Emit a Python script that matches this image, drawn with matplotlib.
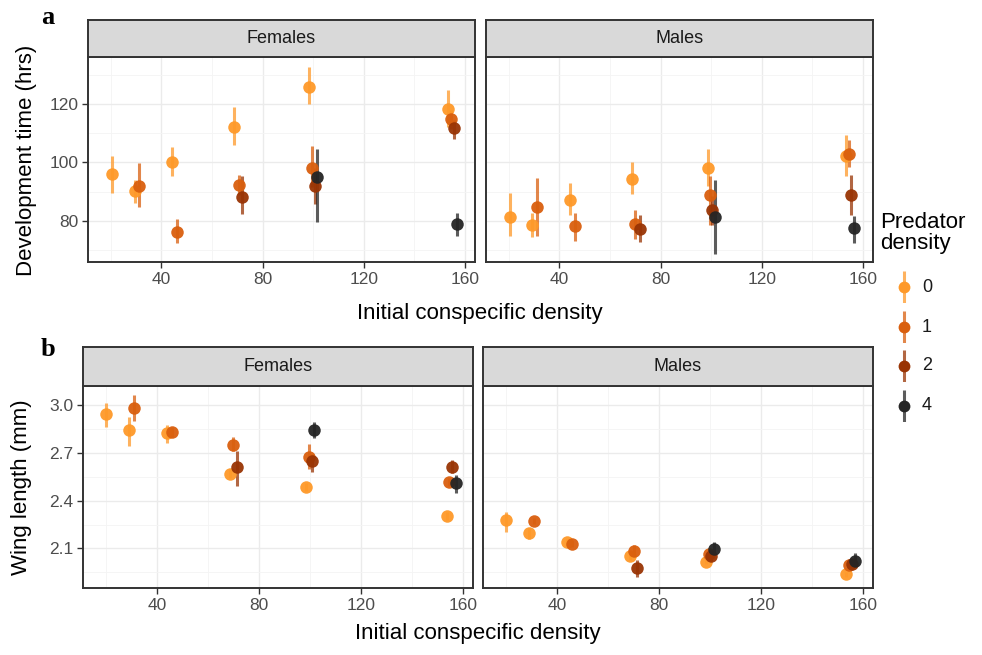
import matplotlib
matplotlib.use('Agg')
import matplotlib.pyplot as plt

plt.rcParams['font.family'] = ['Liberation Sans', 'DejaVu Sans']

# predator density levels and colours
pred_levels = [0, 1, 2, 4]
pred_colors = ['#fe9929', '#d95f0e', '#993404', '#252525']

# point order in every panel: pred level of each point
pred = [0, 0, 1, 0, 1, 0, 1, 2, 0, 1, 2, 4, 0, 1, 2, 4]

# a) development time, females
dev_f_x = [20.3, 29.4, 31.3, 44.2, 46.2, 68.8, 70.5, 71.7, 98.5, 99.7, 100.7, 101.7, 153.5, 154.7, 155.7, 156.7]
dev_f_y = [96.0, 90.1, 92.1, 100.1, 76.3, 112.1, 92.4, 88.1, 125.9, 98.1, 91.8, 95.0, 118.1, 114.9, 111.6, 78.9]
dev_f_lo = [89.7, 86.1, 84.9, 95.2, 72.4, 105.8, 89.0, 82.4, 119.8, 91.5, 85.8, 79.8, 112.0, 111.5, 108.0, 74.9]
dev_f_hi = [102.3, 94.1, 99.8, 105.1, 80.6, 118.9, 95.8, 95.4, 132.7, 105.5, 98.1, 104.7, 124.9, 118.0, 114.5, 82.9]

# a) development time, males
dev_m_x = [20.3, 29.1, 31.3, 44.2, 46.2, 68.8, 69.9, 71.9, 98.6, 99.5, 100.5, 101.7, 153.4, 154.4, 155.4, 156.4]
dev_m_y = [81.5, 78.6, 84.9, 87.2, 78.3, 94.3, 79.0, 77.3, 98.1, 88.9, 83.8, 81.5, 102.3, 103.0, 88.9, 77.5]
dev_m_lo = [74.9, 74.6, 75.0, 82.1, 73.3, 89.2, 74.0, 73.0, 91.8, 78.6, 78.5, 68.9, 95.2, 98.6, 82.1, 72.6]
dev_m_hi = [89.7, 82.6, 94.8, 92.9, 82.6, 100.0, 83.8, 82.0, 104.7, 95.2, 88.5, 94.1, 109.3, 107.5, 95.8, 81.8]

# b) wing length, females
wing_f_x = [20.1, 29.0, 31.0, 44.1, 46.1, 68.7, 70.0, 71.3, 98.6, 99.5, 100.8, 101.7, 153.7, 154.6, 155.7, 157.2]
wing_f_y = [2.942, 2.844, 2.983, 2.823, 2.83, 2.569, 2.75, 2.61, 2.486, 2.673, 2.646, 2.84, 2.306, 2.516, 2.61, 2.51]
wing_f_lo = [2.864, 2.74, 2.90, 2.76, 2.80, 2.54, 2.71, 2.49, 2.46, 2.60, 2.58, 2.79, 2.28, 2.49, 2.573, 2.448]
wing_f_hi = [3.014, 2.927, 3.06, 2.875, 2.86, 2.60, 2.80, 2.71, 2.51, 2.756, 2.69, 2.896, 2.33, 2.54, 2.656, 2.558]

# b) wing length, males
wing_m_x = [20.0, 28.9, 31.1, 44.0, 46.0, 68.5, 70.1, 71.4, 98.6, 99.7, 100.5, 101.8, 153.6, 154.7, 155.6, 157.0]
wing_m_y = [2.281, 2.194, 2.273, 2.142, 2.127, 2.052, 2.085, 1.975, 2.016, 2.068, 2.05, 2.094, 1.937, 1.996, 2.002, 2.023]
wing_m_lo = [2.204, 2.16, 2.255, 2.12, 2.11, 2.03, 2.05, 1.923, 2.0, 2.04, 2.02, 2.06, 1.92, 1.98, 1.985, 1.985]
wing_m_hi = [2.33, 2.23, 2.29, 2.16, 2.145, 2.075, 2.12, 2.027, 2.035, 2.10, 2.08, 2.14, 1.955, 2.015, 2.02, 2.069]

W, H = 982, 655
fig = plt.figure(figsize=(W / 100, H / 100), dpi=100)


def box(x0, y0, x1, y1):
    # pixel box (top-left origin) -> figure fraction
    return [x0 / W, 1 - y1 / H, (x1 - x0) / W, (y1 - y0) / H]


def panel(px, strip_top, top, bottom, title, xs, ys, lo, hi, ylim, major, minor, show_y):
    ax = fig.add_axes(box(px[0], top, px[1], bottom))
    ax.set_xlim(11, 164)
    ax.set_ylim(*ylim)
    ax.set_xticks([40, 80, 120, 160])
    ax.set_xticks([20, 60, 100, 140], minor=True)
    ax.set_yticks(major)
    ax.set_yticks(minor, minor=True)
    ax.grid(which='major', color='#ebebeb', lw=1.0)
    ax.grid(which='minor', color='#f4f4f4', lw=0.6)
    ax.set_axisbelow(True)
    for s in ax.spines.values():
        s.set_color('#333333')
        s.set_linewidth(1.4)
    ax.tick_params(which='major', length=4, width=1, color='#333333',
                   labelsize=12.5, labelcolor='#4d4d4d', pad=3)
    ax.tick_params(which='minor', length=0)
    if not show_y:
        ax.tick_params(axis='y', labelleft=False, length=0)
    for lvl, col in zip(pred_levels, pred_colors):
        idx = [i for i, p in enumerate(pred) if p == lvl]
        for i in idx:
            ax.plot([xs[i], xs[i]], [lo[i], hi[i]], color=col, lw=2.2, alpha=0.75,
                    solid_capstyle='butt', zorder=2)
        ax.plot([xs[i] for i in idx], [ys[i] for i in idx], 'o', color=col,
                ms=9, mec='none', alpha=0.95, zorder=3)
    st = fig.add_axes(box(px[0], strip_top, px[1], top))
    st.set_facecolor('#d9d9d9')
    st.set_xticks([])
    st.set_yticks([])
    for s in st.spines.values():
        s.set_color('#333333')
        s.set_linewidth(1.4)
    st.text(0.5, 0.5, title, ha='center', va='center', fontsize=13, color='#1a1a1a',
            transform=st.transAxes)
    return ax


panel((88, 475), 20, 57, 262, 'Females', dev_f_x, dev_f_y, dev_f_lo, dev_f_hi,
      (66, 136), [80, 100, 120], [70, 90, 110, 130], True)
panel((486, 873), 20, 57, 262, 'Males', dev_m_x, dev_m_y, dev_m_lo, dev_m_hi,
      (66, 136), [80, 100, 120], [70, 90, 110, 130], False)
panel((83, 473), 347, 386, 588, 'Females', wing_f_x, wing_f_y, wing_f_lo, wing_f_hi,
      (1.852, 3.119), [2.1, 2.4, 2.7, 3.0], [1.95, 2.25, 2.55, 2.85], True)
panel((483, 873), 347, 386, 588, 'Males', wing_m_x, wing_m_y, wing_m_lo, wing_m_hi,
      (1.852, 3.119), [2.1, 2.4, 2.7, 3.0], [1.95, 2.25, 2.55, 2.85], False)

# axis titles
fig.text(480 / W, 1 - 313 / H, 'Initial conspecific density', ha='center', va='center', fontsize=16)
fig.text(478 / W, 1 - 634 / H, 'Initial conspecific density', ha='center', va='center', fontsize=16)
fig.text(27 / W, 1 - 160 / H, 'Development time (hrs)', ha='center', va='center',
         rotation=90, fontsize=16)
fig.text(22 / W, 1 - 487 / H, 'Wing length (mm)', ha='center', va='center',
         rotation=90, fontsize=16)

# panel letters
fig.text(48 / W, 1 - 17 / H, 'a', ha='center', va='center', fontsize=19,
         fontweight='bold', family='Liberation Serif')
fig.text(48 / W, 1 - 349 / H, 'b', ha='center', va='center', fontsize=19,
         fontweight='bold', family='Liberation Serif')

# legend
fig.text(880 / W, 1 - 233 / H, 'Predator\ndensity', ha='left', va='center', fontsize=16,
         linespacing=1.0)
leg_y = [287, 327, 366, 406]
for lvl, col, ly in zip(pred_levels, pred_colors, leg_y):
    lax = fig.add_axes(box(894, ly - 16, 914, ly + 16))
    lax.set_xlim(-1, 1)
    lax.set_ylim(-1, 1)
    lax.axis('off')
    lax.plot([0, 0], [-1, 1], color=col, lw=2.2, alpha=0.75, solid_capstyle='butt')
    lax.plot([0], [0], 'o', color=col, ms=8.5, mec='none')
    fig.text(922 / W, 1 - ly / H, str(lvl), ha='left', va='center', fontsize=13,
             color='#1a1a1a')

fig.savefig('out.png', dpi=100)
